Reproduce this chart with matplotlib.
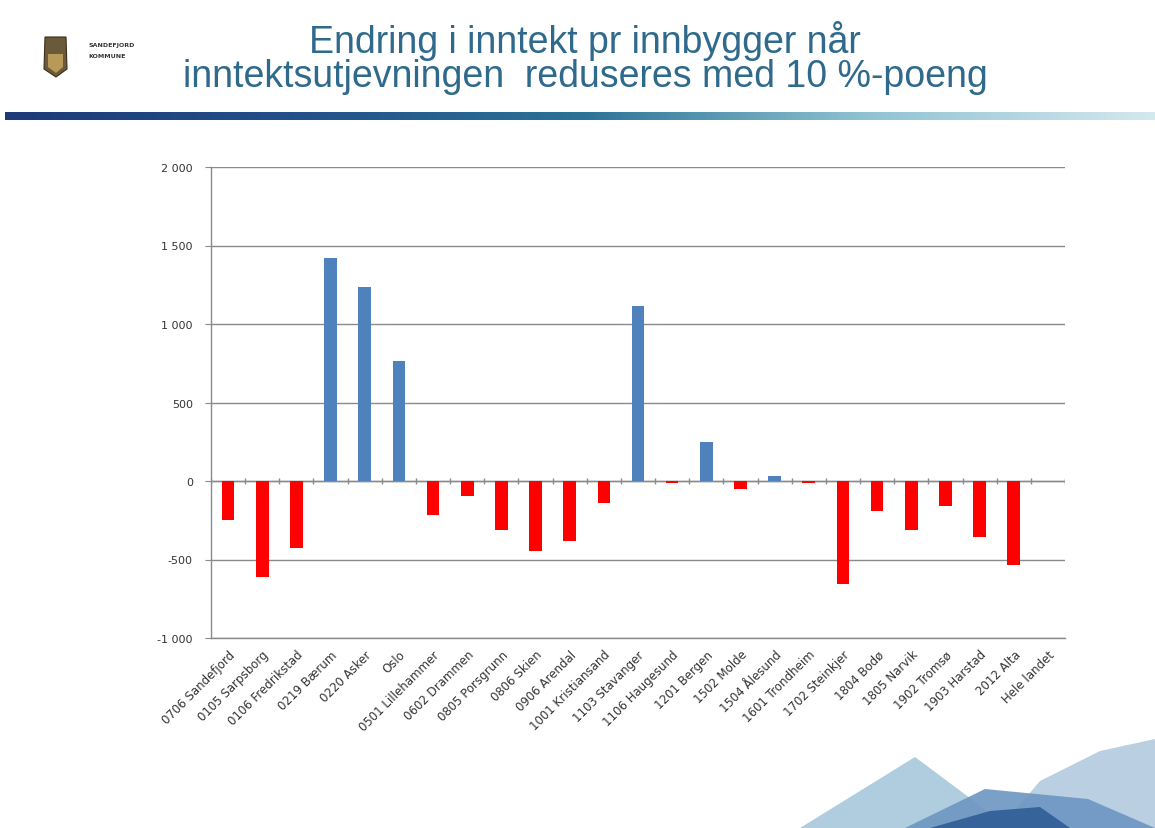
import numpy as np
import matplotlib
matplotlib.use("Agg")
from matplotlib import pyplot as plt
from matplotlib.colors import LinearSegmentedColormap
from matplotlib.patches import Polygon
from matplotlib.ticker import FuncFormatter

# data
kommuner = ["0706 Sandefjord", "0105 Sarpsborg", "0106 Fredrikstad", "0219 Bærum",
            "0220 Asker", "Oslo", "0501 Lillehammer", "0602 Drammen", "0805 Porsgrunn",
            "0806 Skien", "0906 Arendal", "1001 Kristiansand", "1103 Stavanger",
            "1106 Haugesund", "1201 Bergen", "1502 Molde", "1504 Ålesund",
            "1601 Trondheim", "1702 Steinkjer", "1804 Bodø", "1805 Narvik",
            "1902 Tromsø", "1903 Harstad", "2012 Alta", "Hele landet"]
endring = [-247, -612, -426, 1420, 1236, 766, -219, -95, -310, -447, -384, -141, 1114,
           -15, 247, -50, 34, -15, -658, -188, -310, -158, -357, -538, 0]
y_ticks = [-1000, -500, 0, 500, 1000, 1500, 2000]

title = "Endring i inntekt pr innbygger når\ninntektsutjevningen  reduseres med 10 %-poeng"

W, H = 1155, 829
fig = plt.figure(figsize=(W / 100, H / 100), dpi=100)
fig.patch.set_facecolor("white")

px = lambda x, y: (x / W, 1 - y / H)

# header
fig.text(px(585, 0)[0], px(0, 58)[1], title, ha="center", va="center",
         fontsize=27, color="#2f6a8c", family="Liberation Sans", linespacing=0.93)

bar_ax = fig.add_axes([0.004, 1 - 121 / H, 0.996, 8 / H])
cmap = LinearSegmentedColormap.from_list("band", ["#1c3b78", "#22508a", "#2a7296",
                                                  "#8fc3d2", "#d5e8ee"])
bar_ax.imshow(np.linspace(0, 1, 256)[None, :], aspect="auto", cmap=cmap)
bar_ax.axis("off")

# logo
fig.patches.append(Polygon([px(45, 38), px(66, 38), px(67, 70), px(56, 78), px(44, 70)],
                           closed=True, transform=fig.transFigure,
                           facecolor="#6b5a3a", edgecolor="#3a2e1c", lw=0.8))
fig.patches.append(Polygon([px(48, 55), px(63, 55), px(63, 68), px(56, 74), px(48, 68)],
                           closed=True, transform=fig.transFigure,
                           facecolor="#b79a5a", edgecolor="none"))
fig.text(*px(88, 46), "SANDEFJORD", fontsize=4.5, weight="bold", color="#333333", va="center")
fig.text(*px(88, 56), "KOMMUNE", fontsize=4.5, weight="bold", color="#333333", va="center")

# bottom-right decoration
deco = [
    ([(1000, 829), (1040, 782), (1100, 752), (1155, 740), (1155, 829)], "#b3cade"),
    ([(800, 829), (915, 758), (1010, 829)], "#a6c8dc"),
    ([(905, 829), (985, 790), (1088, 800), (1155, 829)], "#6d96c2"),
    ([(930, 829), (990, 812), (1040, 808), (1070, 829)], "#2f5d96"),
]
for pts, col in deco:
    fig.patches.append(Polygon([px(*p) for p in pts], closed=True,
                               transform=fig.transFigure, facecolor=col,
                               edgecolor="none", alpha=0.9))

# chart
ax = fig.add_axes([211 / W, 1 - 639 / H, (1065 - 211) / W, (639 - 168) / H])
x = np.arange(len(kommuner))
colors = ["#4f81bd" if v > 0 else "#ff0000" for v in endring]
ax.bar(x, endring, width=0.37, color=colors, zorder=3)

ax.set_xlim(-0.5, len(kommuner) - 0.5)
ax.set_ylim(y_ticks[0], y_ticks[-1])
ax.set_yticks(y_ticks)
ax.yaxis.set_major_formatter(FuncFormatter(lambda v, p: f"{int(v):,}".replace(",", " ")))
ax.grid(axis="y", color="#8a8a8a", lw=1.0, zorder=1)

# category axis crossing at zero with boundary ticks
ax.axhline(0, color="#8a8a8a", lw=1.0, zorder=2)
ax.vlines(np.arange(len(kommuner) + 1) - 0.5, -18, 18, color="#8a8a8a", lw=1.0, zorder=2)

ax.set_xticks(x)
ax.set_xticklabels(kommuner, rotation=45, ha="right", rotation_mode="anchor",
                   fontsize=8.5, color="#333333")
ax.tick_params(axis="x", length=0, pad=7)
ax.tick_params(axis="y", length=4, color="#8a8a8a", labelsize=8, labelcolor="#333333", pad=9)

for side in ["top", "right"]:
    ax.spines[side].set_visible(False)
for side in ["left", "bottom"]:
    ax.spines[side].set_color("#8a8a8a")
    ax.spines[side].set_linewidth(1.0)

fig.savefig("out.png", dpi=100)
